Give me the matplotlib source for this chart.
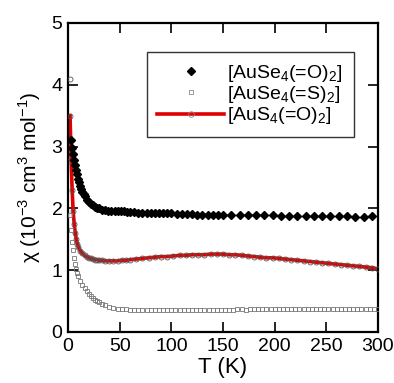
import matplotlib
matplotlib.use("Agg")
import matplotlib.pyplot as plt
from matplotlib.lines import Line2D

plt.rcParams['font.family'] = ['Liberation Sans', 'DejaVu Sans']
plt.rcParams['mathtext.fontset'] = 'custom'
plt.rcParams['mathtext.rm'] = 'Liberation Sans'
plt.rcParams['axes.unicode_minus'] = False

# [AuSe4(=O)2] - diamants noirs
T_o = [3, 4, 5, 6, 7, 8, 9, 10, 11, 12, 13, 14, 15, 16,
       18, 20, 22, 24, 26, 28, 30,
       33, 36, 39, 42, 45, 48, 51, 54, 57, 60,
       64, 68, 72, 76, 80, 84, 88, 92, 96, 100,
       105, 110, 115, 120, 125, 130, 135, 140, 145, 150,
       158, 166, 174, 182, 190, 198, 206, 214, 222, 230, 238, 246, 254, 262, 270, 278, 286, 294]
chi_o = [3.10, 2.98, 2.88, 2.78, 2.70, 2.62, 2.55, 2.48, 2.42, 2.37, 2.32, 2.27, 2.23, 2.20,
         2.14, 2.10, 2.07, 2.05, 2.03, 2.01, 2.00,
         1.98, 1.97, 1.96, 1.95, 1.95, 1.95, 1.96, 1.95, 1.94, 1.94,
         1.94, 1.93, 1.93, 1.93, 1.93, 1.92, 1.92, 1.92, 1.92, 1.92,
         1.91, 1.91, 1.91, 1.91, 1.90, 1.90, 1.90, 1.90, 1.90, 1.89,
         1.89, 1.89, 1.89, 1.89, 1.89, 1.89, 1.88, 1.88, 1.88, 1.88, 1.88, 1.88, 1.88, 1.87, 1.87, 1.86, 1.86, 1.87]

# [AuSe4(=S)2] - petits carrés ouverts
T_s = [2, 3, 4, 5, 6, 7, 8, 9, 10, 12, 14, 16, 18, 20, 22, 24, 26, 28, 30,
       33, 36, 40, 44, 48, 52, 56, 60,
       64, 68, 72, 76, 80, 84, 88, 92, 96, 100, 104, 108, 112, 116, 120,
       124, 128, 132, 136, 140, 144, 148, 152, 156, 160, 164, 168, 172, 176, 180,
       184, 188, 192, 196, 200, 204, 208, 212, 216, 220, 224, 228, 232, 236, 240,
       244, 248, 252, 256, 260, 264, 268, 272, 276, 280, 284, 288, 292, 296, 300]
chi_s = [1.90, 1.65, 1.45, 1.32, 1.20, 1.10, 1.02, 0.96, 0.91, 0.83, 0.76, 0.71, 0.66, 0.62, 0.58, 0.55, 0.52, 0.50, 0.48,
         0.45, 0.43, 0.41, 0.39, 0.38, 0.37, 0.37, 0.36,
         0.36, 0.36, 0.36, 0.36, 0.35, 0.35, 0.35, 0.35, 0.35, 0.35, 0.36, 0.36, 0.36, 0.36, 0.36,
         0.36, 0.36, 0.36, 0.36, 0.36, 0.36, 0.36, 0.36, 0.36, 0.36, 0.37, 0.37, 0.36, 0.37, 0.37,
         0.37, 0.37, 0.37, 0.37, 0.37, 0.37, 0.37, 0.37, 0.37, 0.37, 0.37, 0.37, 0.37, 0.37, 0.37,
         0.38, 0.37, 0.37, 0.38, 0.37, 0.38, 0.38, 0.37, 0.38, 0.38, 0.38, 0.38, 0.38, 0.38, 0.38]

# [AuS4(=O)2] - ligne rouge + cercles
T_c = [1.8, 2, 3, 4, 5, 6, 7, 8, 9, 10, 12, 14, 16, 18, 20, 22, 24, 26, 28, 30,
       33, 36, 40, 44, 48, 52, 56, 60,
       66, 72, 78, 84, 90, 96, 102, 108, 114, 120, 126, 132, 138, 144, 150,
       156, 162, 168, 174, 180, 186, 192, 198, 204, 210, 216, 222, 228, 234,
       240, 246, 252, 258, 264, 270, 276, 282, 288, 294, 300]
chi_c = [4.10, 3.50, 2.80, 2.30, 1.95, 1.75, 1.60, 1.50, 1.43, 1.38, 1.31, 1.27, 1.24, 1.22, 1.20, 1.19, 1.18, 1.17, 1.17, 1.16,
         1.16, 1.15, 1.15, 1.15, 1.15, 1.16, 1.16, 1.17,
         1.18, 1.19, 1.20, 1.21, 1.22, 1.22, 1.23, 1.24, 1.24, 1.25, 1.25, 1.25, 1.26, 1.26, 1.26,
         1.25, 1.25, 1.24, 1.23, 1.22, 1.21, 1.20, 1.20, 1.19, 1.18, 1.17, 1.16, 1.15, 1.14,
         1.13, 1.12, 1.11, 1.10, 1.09, 1.08, 1.07, 1.06, 1.05, 1.04, 1.02]

labels = [r'[AuSe$_4$(=O)$_2$]', r'[AuSe$_4$(=S)$_2$]', r'[AuS$_4$(=O)$_2$]']

fig = plt.figure(figsize=(3.94, 3.83), dpi=100)
ax = fig.add_axes([0.1726, 0.1332, 0.7868, 0.8068])

ax.plot(T_c[1:], chi_c[1:], color='#e00000', lw=2.6, zorder=2)
ax.plot(T_c, chi_c, ls='none', marker='o', ms=3.6, mfc='none', mec='#555555', mew=0.6, zorder=3)
ax.plot(T_s, chi_s, ls='none', marker='s', ms=3, mfc='none', mec='#777777', mew=0.6, zorder=3)
ax.plot(T_o, chi_o, ls='none', marker='D', ms=4.2, color='black', zorder=4)

handles = [
    Line2D([], [], ls='none', marker='D', ms=4.2, color='black'),
    Line2D([], [], ls='none', marker='s', ms=3.2, mfc='none', mec='#888888', mew=0.6),
    Line2D([], [], color='#e00000', lw=2.6, marker='o', ms=4, mfc='none', mec='#888888', mew=0.6),
]
leg = ax.legend(handles, labels, loc='upper right', bbox_to_anchor=(0.921, 0.906),
                fontsize=14, frameon=True, fancybox=False, handlelength=3.4,
                borderpad=0.55, labelspacing=0.02, handletextpad=0.2, borderaxespad=0)
leg.get_frame().set_edgecolor('black')
leg.get_frame().set_linewidth(1.0)

ax.set_xlim(0, 300)
ax.set_ylim(0, 5)
ax.set_xticks([0, 50, 100, 150, 200, 250, 300])
ax.set_yticks([0, 1, 2, 3, 4, 5])
ax.tick_params(direction='in', length=7, width=1.2, top=True, right=True, labelsize=14, pad=4)
for s in ax.spines.values():
    s.set_linewidth(1.6)

ax.set_xlabel('T (K)', fontsize=16, labelpad=2)
ax.set_ylabel(r'χ (10$^{\mathrm{-3}}$ cm$^{3}$ mol$^{\mathrm{-1}}$)', fontsize=15, labelpad=6)

fig.savefig('out.png', dpi=100)
